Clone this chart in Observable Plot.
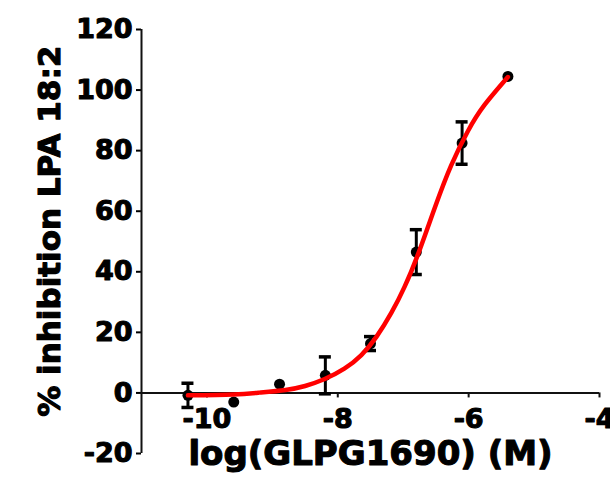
<!DOCTYPE html>
<html>
<head>
<meta charset="utf-8">
<script src="https://cdn.jsdelivr.net/npm/d3@7"></script>
<script src="https://cdn.jsdelivr.net/npm/@observablehq/plot@0.6"></script>
<style>
  html, body { margin: 0; padding: 0; background: #fff; overflow: hidden; }
  #chart svg { font-family: "DejaVu Sans", Verdana, sans-serif; font-weight: bold; }
  #chart svg text { stroke: #000; stroke-width: 1.1px; stroke-linejoin: round; }
</style>
</head>
<body>
<div id="chart"></div>
<script>
// Data points: log concentration, % inhibition, SEM
const logConc = [-10.29, -9.59, -8.89, -8.19, -7.50, -6.80, -6.10, -5.40];
const inhibition = [-0.8, -3.0, 2.9, 5.8, 16.3, 46.5, 82.5, 104.5];
const sem = [4.0, 0, 0, 6.1, 2.3, 7.4, 7.0, 0];

// Fitted curve
const curveX = [-10.29, -9.6, -9.2, -8.8, -8.5, -8.2, -7.9, -7.64, -7.41, -7.18, -6.98, -6.77, -6.52, -6.27, -6.01, -5.76, -5.40];
const curveY = [-0.8, -0.5, 0.1, 1.0, 2.3, 4.6, 8.0, 12.5, 18.5, 26.5, 35.0, 46.0, 61.0, 75.0, 86.5, 95.0, 104.3];

const xDomain = [-11, -4];
const yDomain = [-20, 120];
const xTicks = [-10, -8, -6, -4];
const xTickLabels = ["-10", "-8", "-6", "-4"];
const yTicks = [-20, 0, 20, 40, 60, 80, 100, 120];
const xLabel = "log(GLPG1690) (M)";
const yLabel = "% inhibition LPA 18:2";

const points = logConc.map((x, i) => ({x, y: inhibition[i], e: sem[i]}));
const errPoints = points.filter(d => d.e > 0);
const curve = curveX.map((x, i) => ({x, y: curveY[i]}));
const xTickData = xTicks.map((x, i) => ({x, label: xTickLabels[i]}));

const chart = Plot.plot({
  width: 610,
  height: 477,
  marginLeft: 141,
  marginRight: 11,
  marginTop: 29,
  marginBottom: 24,
  style: {fontFamily: "DejaVu Sans, sans-serif", fontWeight: "bold", overflow: "visible"},
  x: {domain: xDomain, axis: null},
  y: {domain: yDomain},
  marks: [
    // y axis
    Plot.axisY({ticks: yTicks, tickSize: 5, tickPadding: 4, fontSize: 27, fontWeight: "bold",
      tickFormat: d => String(d), label: null, strokeWidth: 2, color: "#000"}),
    Plot.ruleX([xDomain[0]], {stroke: "#111", strokeWidth: 2}),
    // x axis drawn at y = 0
    Plot.ruleY([0], {stroke: "#111", strokeWidth: 2}),
    Plot.ruleX(xTickData, {x: "x", y1: 0, y2: 0, insetBottom: -5, stroke: "#111", strokeWidth: 2}),
    Plot.text(xTickData, {x: "x", y: 0, text: "label", dy: 26.7, fontSize: 27, fontWeight: "bold", fill: "#000"}),
    // axis titles
    Plot.text([xLabel], {frameAnchor: "bottom", lineAnchor: "middle", text: d => d, dy: 1, fontSize: 34, fontWeight: "bold", fill: "#000"}),
    Plot.text([yLabel], {x: () => xDomain[0], y: () => 53.4, text: d => d, rotate: -90, dx: -91,
      lineAnchor: "middle", fontSize: 31, fontWeight: "bold", fill: "#000"}),
    // error bars
    Plot.ruleX(errPoints, {x: "x", y1: d => d.y - d.e, y2: d => d.y + d.e, stroke: "#000", strokeWidth: 3}),
    Plot.ruleY(errPoints, {y: d => d.y + d.e, x1: "x", x2: "x", insetLeft: -6, insetRight: -6, stroke: "#000", strokeWidth: 3.5}),
    Plot.ruleY(errPoints, {y: d => d.y - d.e, x1: "x", x2: "x", insetLeft: -6, insetRight: -6, stroke: "#000", strokeWidth: 3.5}),
    // data points
    Plot.dot(points, {x: "x", y: "y", r: 5.5, fill: "#000", stroke: "none"}),
    // fitted curve
    Plot.line(curve, {x: "x", y: "y", curve: "natural", stroke: "#ff0000", strokeWidth: 4.5})
  ]
});
document.getElementById("chart").appendChild(chart);
</script>
</body>
</html>
